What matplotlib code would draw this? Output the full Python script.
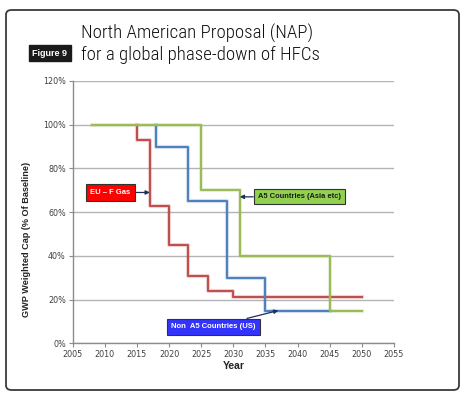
import matplotlib
matplotlib.use("Agg")
import matplotlib.pyplot as plt
from matplotlib.patches import FancyBboxPatch
import matplotlib.patheffects as pe

# ---- data ----
eu_years = [2015, 2015, 2017, 2020, 2023, 2026, 2030, 2050]
eu_cap = [100, 93, 63, 45, 31, 24, 21, 21]

nona5_years = [2018, 2018, 2023, 2029, 2035, 2045]
nona5_cap = [100, 90, 65, 30, 15, 15]

a5_years = [2008, 2025, 2031, 2045, 2050]
a5_cap = [100, 70, 40, 15, 15]

x_ticks = list(range(2005, 2060, 5))
y_ticks = [0, 20, 40, 60, 80, 100, 120]
y_tick_labels = ["0%", "20%", "40%", "60%", "80%", "100%", "120%"]

title_lines = ["North American Proposal (NAP)", "for a global phase-down of HFCs"]

RED = "#C0504D"
BLUE = "#4F81BD"
GREEN = "#9BBB59"

fig = plt.figure(figsize=(4.63, 3.93), dpi=100)
W, H = 463, 393

def fx(px):
    return px / W

def fy(py):
    return 1 - py / H

# outer frame
frame = FancyBboxPatch((fx(6), fy(390)), fx(453), (390 - 10) / H,
                       boxstyle="round,pad=0,rounding_size=0.012",
                       transform=fig.transFigure, facecolor="none",
                       edgecolor="#3a3a3a", linewidth=1.3, zorder=-1)
fig.patches.append(frame)

TITLE_FONT = ["Roboto Condensed", "DejaVu Sans"]
fig.text(fx(81), fy(38.5), title_lines[0], fontsize=13.6, family=TITLE_FONT, fontweight="light",
         color="#111111", va="baseline", ha="left")
fig.text(fx(81), fy(59.5), title_lines[1], fontsize=13.6, family=TITLE_FONT, fontweight="light",
         color="#111111", va="baseline", ha="left")
fig.text(fx(50), fy(53), "Figure 9", fontsize=6.5, fontweight="bold", color="white",
         ha="center", va="center", family="Liberation Sans",
         bbox=dict(boxstyle="square,pad=0.35", facecolor="#1a1a1a", edgecolor="#1a1a1a"))

ax = fig.add_axes([fx(72.7), fy(343.3), fx(394 - 72.7), (343.3 - 81) / H])
ax.set_xlim(2005, 2055)
ax.set_ylim(0, 120)
ax.set_xticks(x_ticks)
ax.set_yticks(y_ticks)
ax.set_yticklabels(y_tick_labels)
ax.tick_params(axis="both", labelsize=5.8, colors="#404040", length=3, width=0.8,
               color="#8c8c8c", pad=2)
ax.grid(axis="y", color="#b4b4b4", linewidth=1.0)
ax.set_axisbelow(True)
for s in ["top", "right"]:
    ax.spines[s].set_visible(False)
for s in ["left", "bottom"]:
    ax.spines[s].set_color("#8c8c8c")
    ax.spines[s].set_linewidth(1.0)

ax.set_xlabel("Year", fontsize=7.5, fontweight="bold", labelpad=1, color="#222222",
              family="Liberation Sans")
ax.set_ylabel("GWP Weighted Cap (% Of Baseline)", fontsize=6.6, fontweight="bold",
              color="#222222", family="Liberation Sans")
ax.yaxis.set_label_coords(-(72.7 - 31.5) / (394 - 72.7), (343.3 - 239) / (343.3 - 81))

def glow(c):
    return [pe.Stroke(linewidth=3.0, foreground=c, alpha=0.22), pe.Normal()]

ax.plot(eu_years, eu_cap, drawstyle="steps-post", color=RED, lw=1.5,
        path_effects=glow(RED), zorder=3)
ax.plot(nona5_years, nona5_cap, drawstyle="steps-post", color=BLUE, lw=1.5,
        path_effects=glow(BLUE), zorder=4)
ax.plot(a5_years, a5_cap, drawstyle="steps-post", color=GREEN, lw=1.5,
        path_effects=glow(GREEN), zorder=5)

arrow = dict(arrowstyle="-|>", color="#1f2f5f", lw=0.9, mutation_scale=6,
             shrinkA=0, shrinkB=0)
BOX_FONT = "Liberation Sans"

ax.annotate("EU – F Gas", xy=(2017, 69), xytext=(2014.0, 69),
            fontsize=5.5, fontweight="bold", color="white", ha="right", va="center",
            family=BOX_FONT,
            bbox=dict(boxstyle="square,pad=0.6", facecolor="#FF0000", edgecolor="#333333", lw=0.8),
            arrowprops=arrow, zorder=6)

ax.annotate("A5 Countries (Asia etc)", xy=(2031, 67), xytext=(2033.8, 67),
            fontsize=5.4, fontweight="bold", color="#1a1a1a", ha="left", va="center",
            family=BOX_FONT,
            bbox=dict(boxstyle="square,pad=0.55", facecolor="#92D050", edgecolor="#333333", lw=0.8),
            arrowprops=arrow, zorder=6)

ax.annotate("Non  A5 Countries (US)", xy=(2037, 15), xytext=(2026.9, 7.5),
            fontsize=5.5, fontweight="bold", color="white", ha="center", va="center",
            family=BOX_FONT,
            bbox=dict(boxstyle="square,pad=0.6", facecolor="#3333FF", edgecolor="#333333", lw=0.8),
            arrowprops=arrow, zorder=6)

fig.savefig("out.png", dpi=100)
